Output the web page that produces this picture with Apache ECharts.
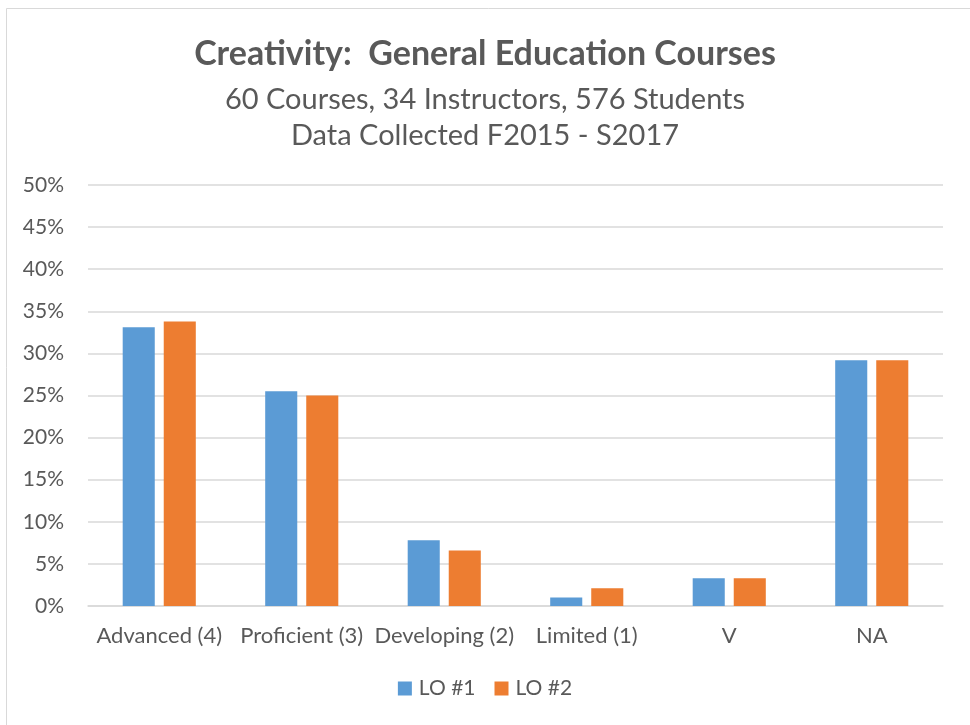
<!DOCTYPE html>
<html><head><meta charset="utf-8">
<script src="https://cdn.jsdelivr.net/npm/echarts@6/dist/echarts.min.js"></script>
<style>html,body{margin:0;padding:0;background:#fff}#c{width:970px;height:725px}</style>
</head><body><div id="c"></div>
<script>
var categories = ['Advanced (4)', 'Proficient (3)', 'Developing (2)', 'Limited (1)', 'V', 'NA'];
var lo1 = [33.1, 25.5, 7.8, 1.0, 3.3, 29.2];
var lo2 = [33.8, 25.0, 6.6, 2.1, 3.3, 29.2];
var seriesNames = ['LO #1', 'LO #2'];
var titleText = 'Creativity:  General Education Courses';
var subText = ['60 Courses, 34 Instructors, 576 Students', 'Data Collected F2015 - S2017'];
var FONT = 'Lato, "Open Sans", sans-serif';
var chart = echarts.init(document.getElementById('c'));
chart.setOption({
  backgroundColor: '#fff',
  animation: false,
  title: [
    {text: titleText, left: 'center', top: 32, textStyle: {fontFamily: FONT, fontSize: 34, fontWeight: 'bold', color: '#595959'}},
    {text: subText[0], left: 'center', top: 80, textStyle: {fontFamily: FONT, fontSize: 29, fontWeight: 'normal', color: '#595959'}},
    {text: subText[1], left: 'center', top: 116, textStyle: {fontFamily: FONT, fontSize: 29, fontWeight: 'normal', color: '#595959'}}
  ],
  graphic: [{type: 'rect', shape: {x: 6.5, y: 8.5, width: 1000, height: 1000}, style: {fill: 'none', stroke: '#d9d9d9', lineWidth: 1}}],
  legend: {
    data: seriesNames, bottom: 21, left: 'center', itemWidth: 14, itemHeight: 14, itemGap: 19,
    icon: 'rect', textStyle: {fontFamily: FONT, fontSize: 21, color: '#595959', padding: [0, 0, 0, 2]}
  },
  grid: {left: 88, right: 27, top: 185, bottom: 119, containLabel: false},
  xAxis: {
    type: 'category', data: categories,
    axisLine: {lineStyle: {color: '#d9d9d9', width: 1.5}},
    axisTick: {show: false},
    axisLabel: {fontFamily: FONT, fontSize: 22, color: '#595959', margin: 19, interval: 0}
  },
  yAxis: {
    type: 'value', min: 0, max: 50, interval: 5,
    axisLine: {show: false}, axisTick: {show: false},
    axisLabel: {formatter: '{value}%', fontFamily: FONT, fontSize: 21, color: '#595959', margin: 24},
    splitLine: {lineStyle: {color: '#d9d9d9', width: 1.5}}
  },
  series: [
    {name: seriesNames[0], type: 'bar', data: lo1, barWidth: '22.5%', barGap: '28%', itemStyle: {color: '#5b9bd5'}},
    {name: seriesNames[1], type: 'bar', data: lo2, barWidth: '22.5%', barGap: '28%', itemStyle: {color: '#ed7d31'}}
  ]
});
</script></body></html>
